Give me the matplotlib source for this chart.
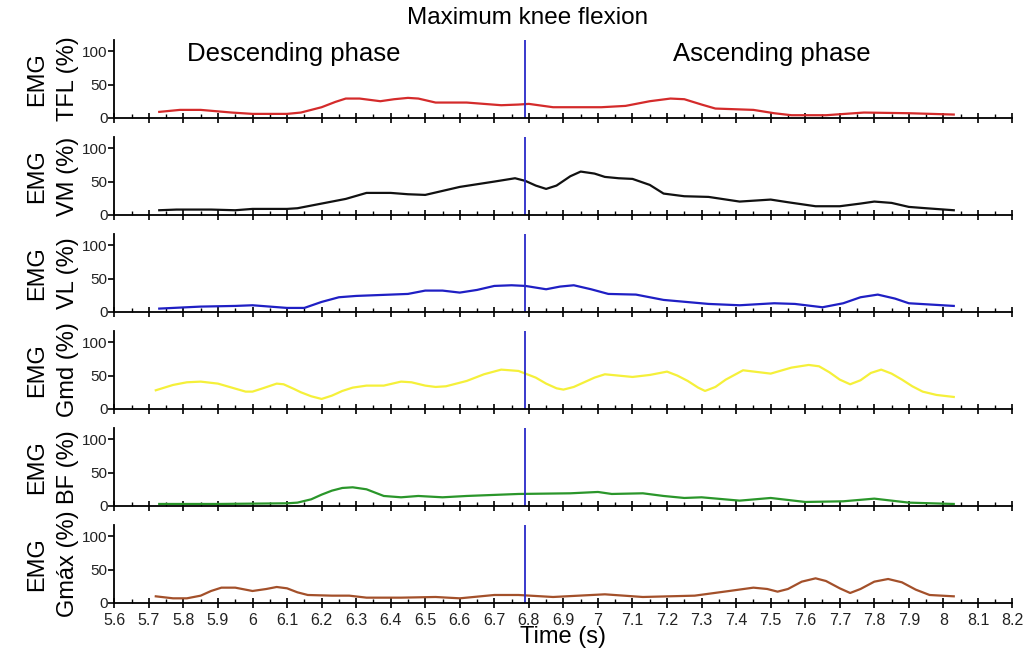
import matplotlib
matplotlib.use("Agg")
import matplotlib.pyplot as plt
from matplotlib.ticker import MultipleLocator, FuncFormatter

plt.rcParams['font.family'] = ['Liberation Sans', 'DejaVu Sans']

# time of maximum knee flexion (s)
knee_t = 6.79

# EMG curves: (time s, % of max)
tfl_t = [5.73, 5.79, 5.85, 5.94, 6.0, 6.1, 6.14, 6.2, 6.24, 6.27, 6.31, 6.37, 6.41, 6.45, 6.48,
         6.53, 6.62, 6.72, 6.77, 6.8, 6.87, 7.01, 7.08, 7.15, 7.21, 7.25, 7.3, 7.34, 7.45,
         7.51, 7.56, 7.66, 7.77, 7.9, 8.03]
tfl_v = [9, 12, 12, 8, 6, 6, 8, 16, 24, 29, 29, 25, 28, 30, 29,
         23, 23, 19, 20, 21, 16, 16, 18, 25, 29, 28, 20, 14, 12,
         7, 4, 4, 8, 7, 5]

vm_t = [5.73, 5.78, 5.88, 5.95, 6.0, 6.1, 6.13, 6.2, 6.27, 6.33, 6.4, 6.45, 6.5, 6.55, 6.6,
        6.7, 6.76, 6.79, 6.82, 6.85, 6.88, 6.92, 6.95, 6.99, 7.02, 7.06, 7.1, 7.15, 7.19,
        7.25, 7.32, 7.41, 7.5, 7.55, 7.63, 7.7, 7.76, 7.8, 7.85, 7.9, 7.95, 8.03]
vm_v = [7, 8, 8, 7, 9, 9, 10, 17, 24, 33, 33, 31, 30, 36, 42,
        50, 55, 51, 44, 39, 44, 58, 65, 62, 57, 55, 54, 45, 32,
        28, 27, 20, 23, 19, 13, 13, 17, 20, 18, 12, 10, 7]

vl_t = [5.73, 5.85, 5.95, 6.0, 6.05, 6.1, 6.15, 6.2, 6.25, 6.3, 6.4, 6.45, 6.5, 6.55, 6.6,
        6.65, 6.7, 6.75, 6.79, 6.85, 6.89, 6.93, 6.98, 7.03, 7.11, 7.19, 7.32, 7.41, 7.51,
        7.57, 7.65, 7.71, 7.76, 7.81, 7.86, 7.9, 8.03]
vl_v = [5, 8, 9, 10, 8, 6, 6, 15, 22, 24, 26, 27, 32, 32, 29,
        33, 39, 40, 39, 34, 38, 40, 34, 27, 26, 18, 12, 10, 13,
        12, 7, 13, 22, 26, 20, 13, 9]

gmd_t = [5.72, 5.77, 5.81, 5.85, 5.9, 5.94, 5.98, 6.0, 6.03, 6.07, 6.09, 6.12, 6.14, 6.17,
         6.2, 6.23, 6.26, 6.29, 6.33, 6.38, 6.43, 6.46, 6.5, 6.53, 6.56, 6.62, 6.67, 6.72,
         6.77, 6.79, 6.82, 6.85, 6.88, 6.9, 6.93, 6.96, 6.99, 7.02, 7.1, 7.15, 7.2, 7.23,
         7.26, 7.29, 7.31, 7.34, 7.37, 7.42, 7.5, 7.56, 7.61, 7.64, 7.67, 7.7, 7.73, 7.76,
         7.79, 7.82, 7.85, 7.88, 7.91, 7.94, 7.98, 8.03]
gmd_v = [28, 36, 40, 41, 38, 32, 26, 26, 31, 38, 37, 30, 25, 19,
         15, 20, 27, 32, 35, 35, 41, 40, 35, 33, 34, 42, 52, 59,
         57, 53, 47, 38, 31, 29, 33, 40, 47, 52, 48, 51, 56, 50,
         42, 32, 27, 33, 44, 58, 53, 62, 66, 64, 55, 44, 37, 43,
         54, 59, 53, 44, 34, 26, 21, 18]

bf_t = [5.73, 5.9, 6.1, 6.13, 6.17, 6.2, 6.23, 6.26, 6.29, 6.33, 6.36, 6.38, 6.43, 6.48,
        6.55, 6.62, 6.72, 6.77, 6.92, 7.0, 7.04, 7.13, 7.19, 7.25, 7.3, 7.41, 7.5, 7.6,
        7.71, 7.8, 7.9, 8.03]
bf_v = [3, 3, 4, 5, 10, 17, 23, 27, 28, 25, 19, 15, 13, 15,
        13, 15, 17, 18, 19, 21, 18, 19, 15, 12, 13, 8, 12, 6,
        7, 11, 5, 3]

gmax_t = [5.72, 5.77, 5.81, 5.85, 5.88, 5.91, 5.95, 6.0, 6.04, 6.07, 6.1, 6.13, 6.16, 6.23,
          6.28, 6.33, 6.43, 6.53, 6.6, 6.7, 6.77, 6.87, 7.02, 7.13, 7.28, 7.38, 7.45, 7.49,
          7.52, 7.55, 7.59, 7.63, 7.66, 7.7, 7.73, 7.76, 7.8, 7.84, 7.88, 7.92, 7.96, 8.03]
gmax_v = [10, 7, 7, 11, 18, 23, 23, 18, 21, 24, 22, 16, 12, 11,
          11, 8, 8, 9, 7, 12, 12, 9, 13, 9, 11, 18, 23, 21,
          17, 21, 32, 37, 33, 22, 15, 21, 32, 36, 31, 20, 12, 10]

series = [
    (tfl_t, tfl_v, "EMG\nTFL (%)", "#d42b2b"),
    (vm_t, vm_v, "EMG\nVM (%)", "#111111"),
    (vl_t, vl_v, "EMG\nVL (%)", "#1f1fc4"),
    (gmd_t, gmd_v, "EMG\nGmd (%)", "#f5f03a"),
    (bf_t, bf_v, "EMG\nBF (%)", "#2a962a"),
    (gmax_t, gmax_v, "EMG\nGmáx (%)", "#a3502a"),
]

fig, axes = plt.subplots(6, 1, figsize=(10.3, 6.54), dpi=100, sharex=True)
fig.subplots_adjust(left=0.111, right=0.983, top=0.939, bottom=0.078, hspace=0.244)

for ax, (t, v, lab, col) in zip(axes, series):
    ax.plot(t, v, color=col, lw=1.6, solid_joinstyle='round')
    ax.axvline(knee_t, color="#2a2ac8", lw=1.3)
    ax.set_xlim(5.6, 8.2)
    ax.set_ylim(0, 117)
    ax.set_yticks([0, 50, 100])
    ax.xaxis.set_major_locator(MultipleLocator(0.1))
    ax.xaxis.set_minor_locator(MultipleLocator(0.05))
    ax.xaxis.set_major_formatter(FuncFormatter(lambda x, p: f"{x:.1f}".rstrip('0').rstrip('.')))
    ax.spines['top'].set_visible(False)
    ax.spines['right'].set_visible(False)
    ax.spines['left'].set_linewidth(1.3)
    ax.spines['bottom'].set_linewidth(1.3)
    ax.tick_params(axis='y', direction='out', length=4, width=1.2, labelsize=11, pad=1,
                   labelcolor='#222222')
    ax.tick_params(axis='x', which='major', direction='inout', length=7, width=1.2,
                   labelsize=11.5, labelcolor='#222222')
    ax.tick_params(axis='x', which='minor', direction='in', length=3, width=1.0)
    ax.set_ylabel(lab, fontsize=17, linespacing=1.5, labelpad=2)

axes[-1].set_xlabel("Time (s)", fontsize=17, labelpad=-1)

fig.text(0.512, 0.972, "Maximum knee flexion", ha="center", va="center", fontsize=17.5)
fig.text(0.285, 0.918, "Descending phase", ha="center", va="center", fontsize=18.5)
fig.text(0.749, 0.918, "Ascending phase", ha="center", va="center", fontsize=18.5)

fig.savefig("out.png", dpi=100)
